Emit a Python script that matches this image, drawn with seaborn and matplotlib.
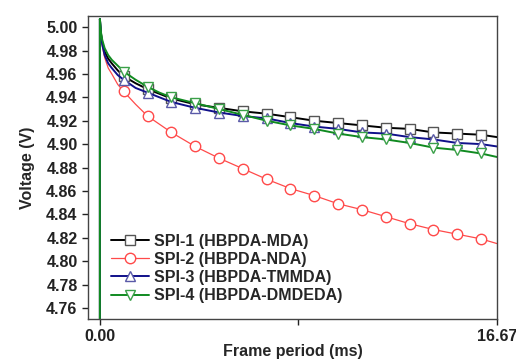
import matplotlib
matplotlib.use("Agg")
import matplotlib.pyplot as plt
import seaborn as sns
import pandas as pd
import numpy as np

# ---- data ----
time_ms = [0, 0, 0.05, 0.1, 0.2, 0.35, 0.5, 0.75, 1, 1.5, 2, 2.5, 3,
           4, 5, 6, 7, 8, 9, 10, 11, 12, 13, 14, 15, 16, 16.67]
spi1 = [0.0, 5.007, 4.994, 4.987, 4.979, 4.973, 4.969, 4.963, 4.958, 4.952, 4.947, 4.943, 4.939,
        4.934, 4.931, 4.928, 4.926, 4.923, 4.920, 4.918, 4.916, 4.914, 4.913, 4.910, 4.909, 4.908, 4.906]
spi2 = [0.0, 5.007, 4.992, 4.984, 4.974, 4.965, 4.960, 4.951, 4.945, 4.934, 4.924, 4.917, 4.910,
        4.898, 4.888, 4.879, 4.870, 4.862, 4.856, 4.849, 4.844, 4.838, 4.832, 4.827, 4.823, 4.819, 4.815]
spi3 = [0.0, 5.007, 4.993, 4.985, 4.976, 4.969, 4.965, 4.959, 4.955, 4.948, 4.944, 4.940, 4.936,
        4.931, 4.927, 4.924, 4.922, 4.918, 4.915, 4.913, 4.910, 4.909, 4.906, 4.904, 4.901, 4.900, 4.898]
spi4 = [0.0, 5.007, 4.995, 4.989, 4.982, 4.976, 4.972, 4.967, 4.962, 4.955, 4.949, 4.944, 4.940,
        4.935, 4.930, 4.925, 4.920, 4.916, 4.913, 4.909, 4.906, 4.904, 4.901, 4.897, 4.895, 4.892, 4.889]
labels = ["SPI-1 (HBPDA-MDA)", "SPI-2 (HBPDA-NDA)", "SPI-3 (HBPDA-TMMDA)", "SPI-4 (HBPDA-DMDEDA)"]
x_ticks = [0.0, 8.335, 16.67]
x_tick_labels = ["0.00", "", "16.67"]
y_ticks = [4.76, 4.78, 4.80, 4.82, 4.84, 4.86, 4.88, 4.90, 4.92, 4.94, 4.96, 4.98, 5.00]

series = [spi1, spi2, spi3, spi4]
line_colors = ["#000000", "#ff4a4a", "#10108a", "#108a20"]
edge_colors = ["#555555", "#ff4a4a", "#5a5aa8", "#3aa048"]
markers = ["s", "o", "^", "v"]
widths = [1.4, 0.9, 1.4, 1.4]

sns.set_style("ticks")
plt.rcParams["font.family"] = ["Liberation Sans", "DejaVu Sans"]
plt.rcParams["font.weight"] = "bold"

fig = plt.figure(figsize=(5.16, 3.61), dpi=100)
ax = fig.add_axes([0.1705, 0.1163, 0.7925, 0.8394])

mark_idx = [i for i, v in enumerate(time_ms) if v >= 1 and float(v).is_integer()]

for vals, lab, lc, ec, mk, lw in zip(series, labels, line_colors, edge_colors, markers, widths):
    df = pd.DataFrame({"t": time_ms, "v": vals})
    sns.lineplot(data=df, x="t", y="v", ax=ax, sort=False, estimator=None,
                 color=lc, lw=lw, marker=mk, markersize=7.5, mfc="white",
                 mec=ec, mew=1.0, markevery=mark_idx, label=lab)

ax.set_xlim(-0.5, 16.67)
ax.set_ylim(4.7505, 5.0095)
ax.set_xticks(x_ticks)
ax.set_xticklabels(x_tick_labels)
ax.set_yticks(y_ticks)
ax.set_yticklabels([f"{v:.2f}" for v in y_ticks])
ax.tick_params(axis="both", direction="out", length=4, width=1, labelsize=11.5, colors="#222222")
ax.tick_params(axis="x", pad=3)
for s in ax.spines.values():
    s.set_visible(True)
    s.set_color("#444444")
    s.set_linewidth(1.0)

ax.set_xlabel("Frame period (ms)", fontsize=11.5, fontweight="bold", labelpad=0)
ax.set_ylabel("Voltage (V)", fontsize=11.5, fontweight="bold", labelpad=8)

leg = ax.legend(loc="lower left", bbox_to_anchor=(0.025, 0.01), frameon=False,
                fontsize=11.5, handlelength=2.4, labelspacing=0.2, handletextpad=0.3,
                borderpad=0.3)
for t in leg.get_texts():
    t.set_fontweight("bold")

fig.savefig("out.png", dpi=100)
